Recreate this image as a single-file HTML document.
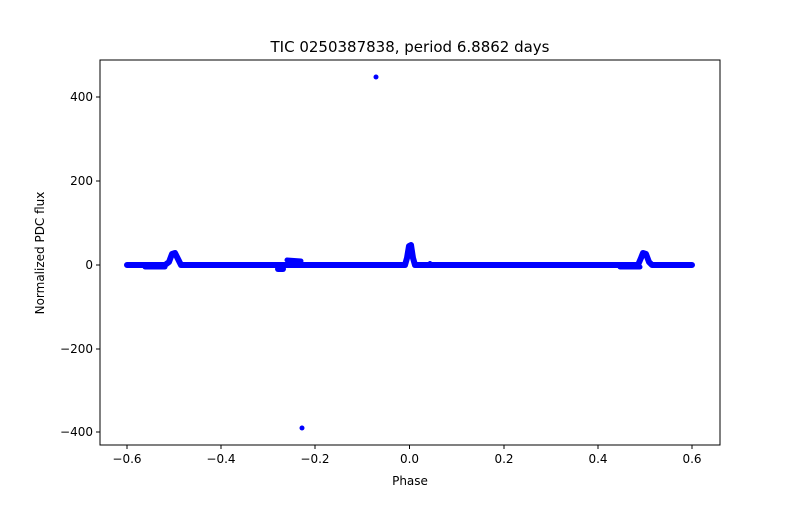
<!DOCTYPE html>
<html><head><style>body{margin:0;background:#fff}</style></head><body>
<svg width="800" height="500" xmlns="http://www.w3.org/2000/svg" font-family="DejaVu Sans, sans-serif" font-size="13">
<rect width="800" height="500" fill="#fff"/>
<g fill="none" stroke="#0000ff" stroke-linecap="round" stroke-linejoin="round">
<polyline stroke-width="6" points="127,265 165,265 169,262 172,254 175,253 178,259 181,265 280,265 290,265 405,265 407,258 409,246 411,245 413,258 415,265 625,265 638,265 641,258 643,253 646,254 649,262 652,265 692,265"/>
<polyline stroke-width="5" points="145,267 165,267"/>
<polyline stroke-width="5" points="620,267 640,267"/>
<polyline stroke-width="6" points="278,269 283,269"/>
<polyline stroke-width="5" points="287,260 301,261"/>
<polyline stroke-width="4" points="291,266 291,262"/>
</g>
<g fill="#0000ff"><circle cx="376" cy="77" r="2.5"/><circle cx="302" cy="428" r="2.5"/><circle cx="430" cy="263" r="2"/></g>
<rect x="100" y="60" width="620" height="385" fill="none" stroke="#000" stroke-width="1"/>
<g stroke="#000">
<line x1="127" y1="445" x2="127" y2="449"/><line x1="221" y1="445" x2="221" y2="449"/><line x1="315" y1="445" x2="315" y2="449"/><line x1="409.5" y1="445" x2="409.5" y2="449"/><line x1="504" y1="445" x2="504" y2="449"/><line x1="598" y1="445" x2="598" y2="449"/><line x1="692" y1="445" x2="692" y2="449"/>
</g>
<g text-anchor="middle" font-size="12" fill="#000">
<text x="127" y="463">−0.6</text><text x="221" y="463">−0.4</text><text x="315" y="463">−0.2</text><text x="409.5" y="463">0.0</text><text x="504" y="463">0.2</text><text x="598" y="463">0.4</text><text x="692" y="463">0.6</text>
<text x="410" y="485">Phase</text>
<text x="410" y="52" font-size="15">TIC 0250387838, period 6.8862 days</text>
</g>
<g stroke="#000"><line x1="96" y1="97" x2="100" y2="97"/><line x1="96" y1="181" x2="100" y2="181"/><line x1="96" y1="265" x2="100" y2="265"/><line x1="96" y1="349" x2="100" y2="349"/><line x1="96" y1="432" x2="100" y2="432"/></g>
<g text-anchor="end" font-size="12" fill="#000">
<text x="93" y="101">400</text><text x="93" y="185">200</text><text x="93" y="269">0</text><text x="93" y="353">−200</text><text x="93" y="436">−400</text>
</g>
<text x="44" y="253" text-anchor="middle" font-size="12" transform="rotate(-90 44 253)">Normalized PDC flux</text>
</svg>
</body></html>
